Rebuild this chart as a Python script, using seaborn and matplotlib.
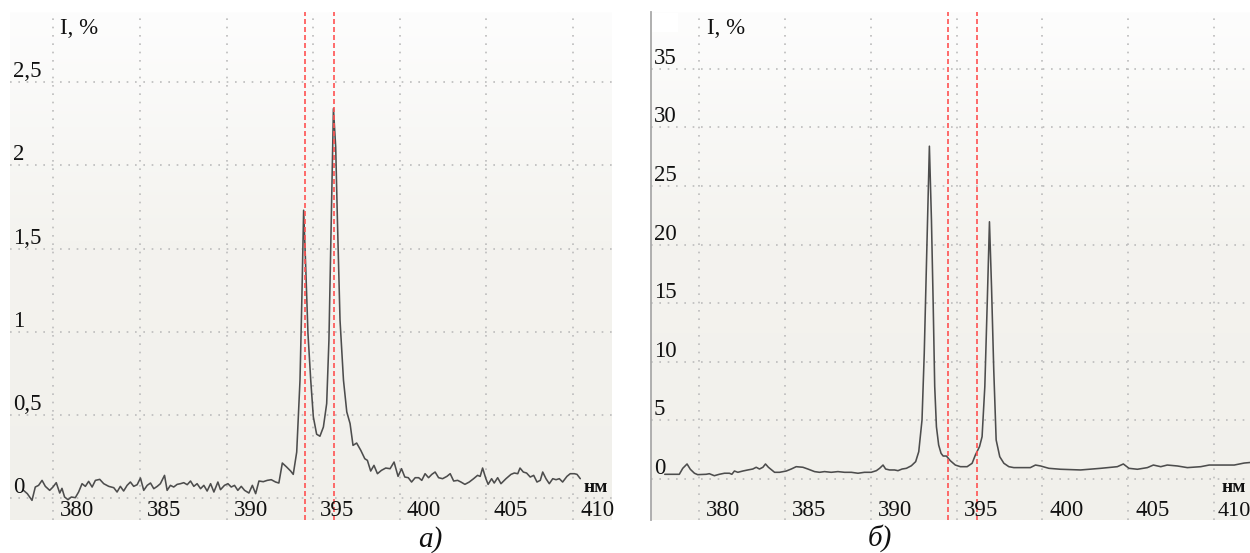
import numpy as np
import pandas as pd
import matplotlib
matplotlib.use("Agg")
import matplotlib.pyplot as plt
import matplotlib.transforms as mtransforms
from matplotlib.colors import LinearSegmentedColormap
from matplotlib.patches import Rectangle
import seaborn as sns

# ---------------- data ----------------
wl_a = [378.28, 378.50, 378.77, 378.96, 379.15, 379.35, 379.54, 379.79, 379.98, 380.17,
        380.37, 380.50, 380.65, 380.85, 381.04, 381.27, 381.46, 381.66, 381.85, 382.04,
        382.24, 382.43, 382.68, 382.91, 383.20, 383.49, 383.68, 383.87, 384.06, 384.26,
        384.45, 384.64, 384.84, 385.03, 385.22, 385.42, 385.61, 385.80, 386.00, 386.18,
        386.42, 386.57, 386.76, 386.95, 387.15, 387.34, 387.53, 387.73, 387.92, 388.11,
        388.30, 388.50, 388.69, 388.88, 389.08, 389.27, 389.50, 389.65, 389.88, 390.08,
        390.27, 390.46, 390.65, 390.85, 391.04, 391.29, 391.49, 391.68, 391.87, 392.12,
        392.35, 392.58, 392.83, 393.02, 393.22, 393.47, 393.70, 393.85, 394.05, 394.24,
        394.35, 394.45, 394.57, 394.70, 394.86, 395.01, 395.20, 395.39, 395.59, 395.78,
        395.91, 396.05, 396.17, 396.30, 396.40, 396.55, 396.75, 396.94, 397.13, 397.30,
        397.51, 397.75, 397.98, 398.13, 398.32, 398.51, 398.71, 398.94, 399.19, 399.44,
        399.67, 399.90, 400.10, 400.29, 400.49, 400.68, 400.89, 401.09, 401.27, 401.46,
        401.66, 401.85, 402.04, 402.24, 402.47, 402.72, 402.91, 403.11, 403.34, 403.53,
        403.76, 404.01, 404.26, 404.49, 404.64, 404.78, 404.97, 405.10, 405.30, 405.45,
        405.65, 405.84, 406.13, 406.42, 406.61, 406.81, 406.94, 407.13, 407.32, 407.53,
        407.73, 407.92, 408.11, 408.25, 408.44, 408.63, 408.83, 409.02, 409.21, 409.40,
        409.65, 409.84, 410.08, 410.23, 410.42]
int_a = [0.048, 0.028, -0.012, 0.068, 0.078, 0.108, 0.072, 0.048, 0.068, 0.094,
         0.032, 0.060, 0.008, -0.008, 0.008, 0.004, 0.038, 0.088, 0.072, 0.102,
         0.068, 0.108, 0.114, 0.088, 0.072, 0.064, 0.038, 0.072, 0.044, 0.078,
         0.098, 0.072, 0.082, 0.122, 0.048, 0.078, 0.092, 0.058, 0.072, 0.088,
         0.138, 0.048, 0.078, 0.068, 0.084, 0.088, 0.094, 0.082, 0.104, 0.072,
         0.088, 0.058, 0.078, 0.044, 0.088, 0.038, 0.098, 0.052, 0.078, 0.088,
         0.068, 0.078, 0.048, 0.072, 0.048, 0.032, 0.078, 0.028, 0.104, 0.100,
         0.108, 0.112, 0.098, 0.092, 0.212, 0.188, 0.164, 0.144, 0.278, 0.709,
         1.21, 1.73, 1.39, 0.99, 0.709, 0.489, 0.385, 0.373, 0.428, 0.569,
         0.95, 1.71, 2.34, 2.11, 1.67, 1.07, 0.709, 0.519, 0.449, 0.318,
         0.332, 0.288, 0.238, 0.228, 0.164, 0.198, 0.148, 0.168, 0.182, 0.178,
         0.218, 0.132, 0.178, 0.128, 0.124, 0.098, 0.124, 0.124, 0.108, 0.148,
         0.124, 0.144, 0.158, 0.124, 0.118, 0.132, 0.148, 0.104, 0.108, 0.098,
         0.084, 0.098, 0.118, 0.138, 0.132, 0.182, 0.118, 0.084, 0.118, 0.092,
         0.124, 0.088, 0.118, 0.144, 0.152, 0.148, 0.182, 0.158, 0.152, 0.128,
         0.138, 0.098, 0.108, 0.158, 0.118, 0.088, 0.118, 0.112, 0.118, 0.098,
         0.132, 0.148, 0.148, 0.144, 0.118]

wl_b = [378.00, 378.85, 379.05, 379.30, 379.49, 379.73, 379.92, 380.41, 380.60, 380.89,
        381.18, 381.48, 381.77, 381.91, 382.06, 382.26, 382.55, 382.84, 383.13, 383.33,
        383.52, 383.72, 383.87, 384.04, 384.40, 384.69, 385.08, 385.37, 385.66, 386.05,
        386.34, 386.73, 387.02, 387.31, 387.70, 388.09, 388.48, 388.87, 389.26, 389.64,
        390.03, 390.33, 390.52, 390.72, 390.87, 391.10, 391.39, 391.59, 391.83, 392.08,
        392.37, 392.62, 392.80, 392.99, 393.12, 393.24, 393.42, 393.54, 393.64, 393.73,
        393.83, 393.96, 394.10, 394.22, 394.41, 394.64, 394.93, 395.23, 395.62, 395.91,
        396.10, 396.34, 396.49, 396.65, 396.79, 396.92, 397.04, 397.17, 397.31, 397.52,
        397.76, 398.05, 398.34, 399.30, 399.60, 399.90, 400.38, 401.06, 402.23, 403.40,
        404.37, 404.72, 405.05, 405.54, 406.12, 406.47, 406.90, 407.28, 407.87, 408.45,
        409.23, 409.72, 410.59, 411.18, 411.76, 412.20]
int_b = [0.40, 0.40, 0.91, 1.28, 0.83, 0.49, 0.37, 0.40, 0.45, 0.28,
         0.40, 0.49, 0.49, 0.40, 0.68, 0.57, 0.68, 0.77, 0.85, 1.00,
         0.85, 1.00, 1.28, 1.00, 0.57, 0.57, 0.68, 0.85, 1.05, 1.00,
         0.85, 0.63, 0.57, 0.63, 0.57, 0.63, 0.57, 0.57, 0.49, 0.57,
         0.57, 0.71, 0.91, 1.19, 0.85, 0.77, 0.77, 0.71, 0.85, 0.91,
         1.13, 1.48, 2.33, 5.03, 10.7, 17.8, 28.4, 22.1, 15.0, 7.9,
         4.46, 2.9, 2.19, 1.96, 1.96, 1.56, 1.19, 1.05, 1.05, 1.34,
         2.05, 2.76, 3.61, 7.9, 15.0, 21.95, 16.4, 9.3, 3.33, 1.90,
         1.34, 1.05, 0.97, 0.97, 1.19, 1.11, 0.91, 0.83, 0.77, 0.91,
         1.05, 1.28, 0.91, 0.83, 0.97, 1.19, 1.05, 1.19, 1.11, 0.97,
         1.05, 1.19, 1.19, 1.19, 1.36, 1.42]

x_ticks = [380, 385, 390, 395, 400, 405, 410]
x_labels = ["380", "385", "390", "395", "400", "405", "410"]
y_ticks_a = [0, 0.5, 1, 1.5, 2, 2.5]
y_labels_a = ["0", "0,5", "1", "1,5", "2", "2,5"]
y_ticks_b = [0, 5, 10, 15, 20, 25, 30, 35]
y_labels_b = ["0", "5", "10", "15", "20", "25", "30", "35"]
ref_lines = [394.5, 396.2]
captions = ["а)", "б)"]
y_title = "I, %"
x_unit = "нм"

# ---------------- style ----------------
sns.set_style("white")
plt.rcParams["font.family"] = ["Liberation Serif", "DejaVu Serif"]

W, H = 1250, 553
fig = plt.figure(figsize=(12.5, 5.53), dpi=100)
ax1 = fig.add_axes([10 / W, 33 / H, 602 / W, 508 / H])
ax2 = fig.add_axes([651 / W, 33 / H, 599 / W, 508 / H])

bg_cmap = LinearSegmentedColormap.from_list(
    "bg", [(0.0, "#f1f0eb"), (0.55, "#f4f3ef"), (1.0, "#fdfdfd")])

panels = [
    (ax1, wl_a, int_a, (377.5, 412.25), (-0.13, 2.92), y_ticks_a, y_labels_a),
    (ax2, wl_b, int_b, (377.2, 412.1), (-3.5, 39.85), y_ticks_b, y_labels_b),
]

for pi, (ax, wl, inten, xl, yl, yt, ylab) in enumerate(panels):
    df = pd.DataFrame({"wl": wl, "I": inten})
    # background gradient
    grad = np.linspace(0, 1, 256).reshape(-1, 1)
    ax.imshow(grad, cmap=bg_cmap, extent=[xl[0], xl[1], yl[0], yl[1]],
              origin="lower", aspect="auto", zorder=0, interpolation="bilinear")
    sns.lineplot(data=df, x="wl", y="I", ax=ax, color="#4d4d4d", linewidth=1.15,
                 estimator=None, sort=False, zorder=3)
    for r in ref_lines:
        ax.axvline(r, color="#ff5252", linewidth=1.2, linestyle=(0, (3, 1.8)), zorder=4)
    ax.set_xlim(*xl)
    ax.set_ylim(*yl)
    ax.set_xticks(x_ticks)
    ax.set_yticks(yt)
    ax.grid(True, color="#bcbcbc", linestyle=(0, (1, 4)), linewidth=1.2, zorder=1)
    ax.set_axisbelow(True)
    ax.tick_params(length=0, labelbottom=False, labelleft=False)
    ax.set_xlabel("")
    ax.set_ylabel("")
    for s in ax.spines.values():
        s.set_visible(False)

    # tick labels inside the plot area
    for i, (v, lab) in enumerate(zip(x_ticks, x_labels)):
        dx = 7
        fs = 16.5
        if pi == 1 and i == len(x_ticks) - 1:
            dx = 4
            fs = 16
        tx = mtransforms.blended_transform_factory(ax.transData, ax.transAxes)
        tx = tx + mtransforms.ScaledTranslation(dx / 100, -1 / 100, fig.dpi_scale_trans)
        ax.text(v, 0, lab, transform=tx, ha="left", va="bottom", fontsize=fs,
                color="#111111", zorder=5)
    ty = mtransforms.blended_transform_factory(ax.transAxes, ax.transData)
    ty = ty + mtransforms.ScaledTranslation(3 / 100, 0, fig.dpi_scale_trans)
    for v, lab in zip(yt, ylab):
        ax.text(0, v, lab, transform=ty, ha="left", va="bottom", fontsize=16.5,
                color="#111111", zorder=5)

ax1.text(0.083, 0.988, y_title, transform=ax1.transAxes, ha="left", va="top",
         fontsize=16.5, color="#111111", zorder=5)
ax2.text(0.0935, 0.988, y_title, transform=ax2.transAxes, ha="left", va="top",
         fontsize=16.5, color="#111111", zorder=5)
ax1.text(0.952, 0.055, x_unit, transform=ax1.transAxes, ha="left", va="baseline",
         fontsize=14, fontweight="bold", color="#111111", zorder=5)
ax2.text(0.953, 0.055, x_unit, transform=ax2.transAxes, ha="left", va="baseline",
         fontsize=14, fontweight="bold", color="#111111", zorder=5)

# right panel left border and small white patch
ax2.spines["left"].set_visible(True)
ax2.spines["left"].set_color("#a9a9a9")
ax2.spines["left"].set_linewidth(1.3)
ax2.add_patch(Rectangle((0.002, (520 - 32) / 508), 26 / 599, 19 / 508,
                        transform=ax2.transAxes, facecolor="white", edgecolor="none",
                        zorder=2))

fig.text(430 / W, 1 - 540 / H, captions[0], ha="center", va="center",
         fontsize=21, style="italic", color="#111111")
fig.text(880 / W, 1 - 538 / H, captions[1], ha="center", va="center",
         fontsize=21, style="italic", color="#111111")

fig.savefig("out.png", dpi=100, facecolor="white")
